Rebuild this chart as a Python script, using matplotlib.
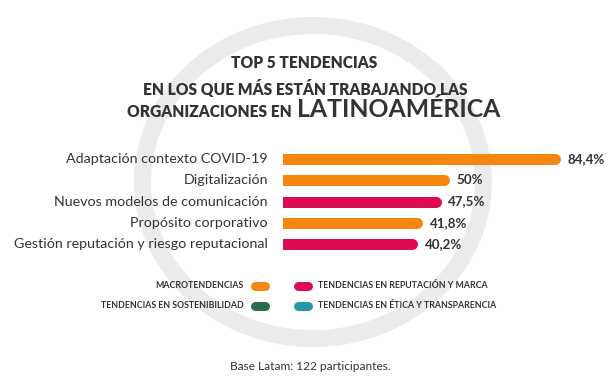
import matplotlib
matplotlib.use("Agg")
import matplotlib.pyplot as plt
from matplotlib.patches import Ellipse

# ---- data ----
categories = ["Adaptación contexto COVID-19", "Digitalización",
              "Nuevos modelos de comunicación", "Propósito corporativo",
              "Gestión reputación y riesgo reputacional"]
values = [84.4, 50.0, 47.5, 41.8, 40.2]
value_labels = ["84,4%", "50%", "47,5%", "41,8%", "40,2%"]
groups = ["macro", "macro", "rep", "macro", "rep"]

legend_keys = ["macro", "rep", "sost", "etica"]
legend_names = ["MACROTENDENCIAS", "TENDENCIAS EN REPUTACIÓN Y MARCA",
                "TENDENCIAS EN SOSTENIBILIDAD", "TENDENCIAS EN ÉTICA Y TRANSPARENCIA"]
colors = {"macro": "#F5860F", "rep": "#DF0B52", "sost": "#2E6A4E", "etica": "#2398A6"}

TEXT = "#333333"
FONT = "Lato"

W, H = 608, 388
fig = plt.figure(figsize=(W / 100, H / 100), dpi=100)
fig.patch.set_facecolor("white")

# background axes in pixel coordinates for decoration
bg = fig.add_axes([0, 0, 1, 1])
bg.set_xlim(0, W)
bg.set_ylim(H, 0)
bg.axis("off")
ring = Ellipse((313, 182), 341, 313, fill=False, lw=17 * 0.72, edgecolor="#EBEBEB")
bg.add_patch(ring)

# titles
bg.text(304, 63, "TOP 5 TENDENCIAS", ha="center", va="center", fontsize=11.2,
        fontweight="heavy", color=TEXT, family=FONT)
bg.text(305, 89, "EN LOS QUE MÁS ESTÁN TRABAJANDO LAS", ha="center", va="center",
        fontsize=11.2, fontweight="heavy", color=TEXT, family=FONT)
bg.text(292, 117, "ORGANIZACIONES EN", ha="right", va="baseline", fontsize=11.2,
        fontweight="heavy", color=TEXT, family=FONT)
bg.text(297, 117, "LATINOAMÉRICA", ha="left", va="baseline", fontsize=17.8,
        fontweight="bold", color=TEXT, family=FONT)

# legend (manual layout)
leg_pos = [(250, 286, "left"), (293, 286, "right"), (250, 306, "left"), (293, 306, "right")]
for key, name, (x, y, side) in zip(legend_keys, legend_names, leg_pos):
    bg.plot([x + 5, x + 15], [y, y], color=colors[key], lw=9 * 0.72,
            solid_capstyle="round")
    if side == "left":
        bg.text(x - 6, y, name, ha="right", va="center", fontsize=6.3,
                color=TEXT, family=FONT, fontweight="bold")
    else:
        bg.text(x + 25, y, name, ha="left", va="center", fontsize=6.3,
                color=TEXT, family=FONT, fontweight="bold")

bg.text(310, 366, "Base Latam: 122 participantes.", ha="center", va="center",
        fontsize=8.6, color=TEXT, family=FONT)

# bar axes
k = 3.217          # px per percent
x0 = 283           # pixel of 0%
row_h = 21.25
top_row = 159
ax_left = x0 / W
ax_w = 100 * k / W
ax_top_px = top_row - row_h / 2
ax_bot_px = ax_top_px + 5 * row_h
ax = fig.add_axes([ax_left, 1 - ax_bot_px / H, ax_w, (ax_bot_px - ax_top_px) / H])
ax.set_xlim(0, 100)
ax.set_ylim(4.5, -0.5)
ax.axis("off")
ax.patch.set_alpha(0)

ys = list(range(len(categories)))
for yv, v, g in zip(ys, values, groups):
    ax.plot([0, v], [yv, yv], color=colors[g], lw=11 * 0.72, solid_capstyle="round")

cap = 5.5 / k
for yv, v, lab, cat in zip(ys, values, value_labels, categories):
    ax.text(v + cap + 7 / k, yv, lab, ha="left", va="center", fontsize=9.6,
            fontweight="bold", color=TEXT, family=FONT)
    ax.text(-(15 / k), yv, cat, ha="right", va="center", fontsize=10.3,
            color=TEXT, family=FONT)

fig.savefig("out.png", dpi=100)
